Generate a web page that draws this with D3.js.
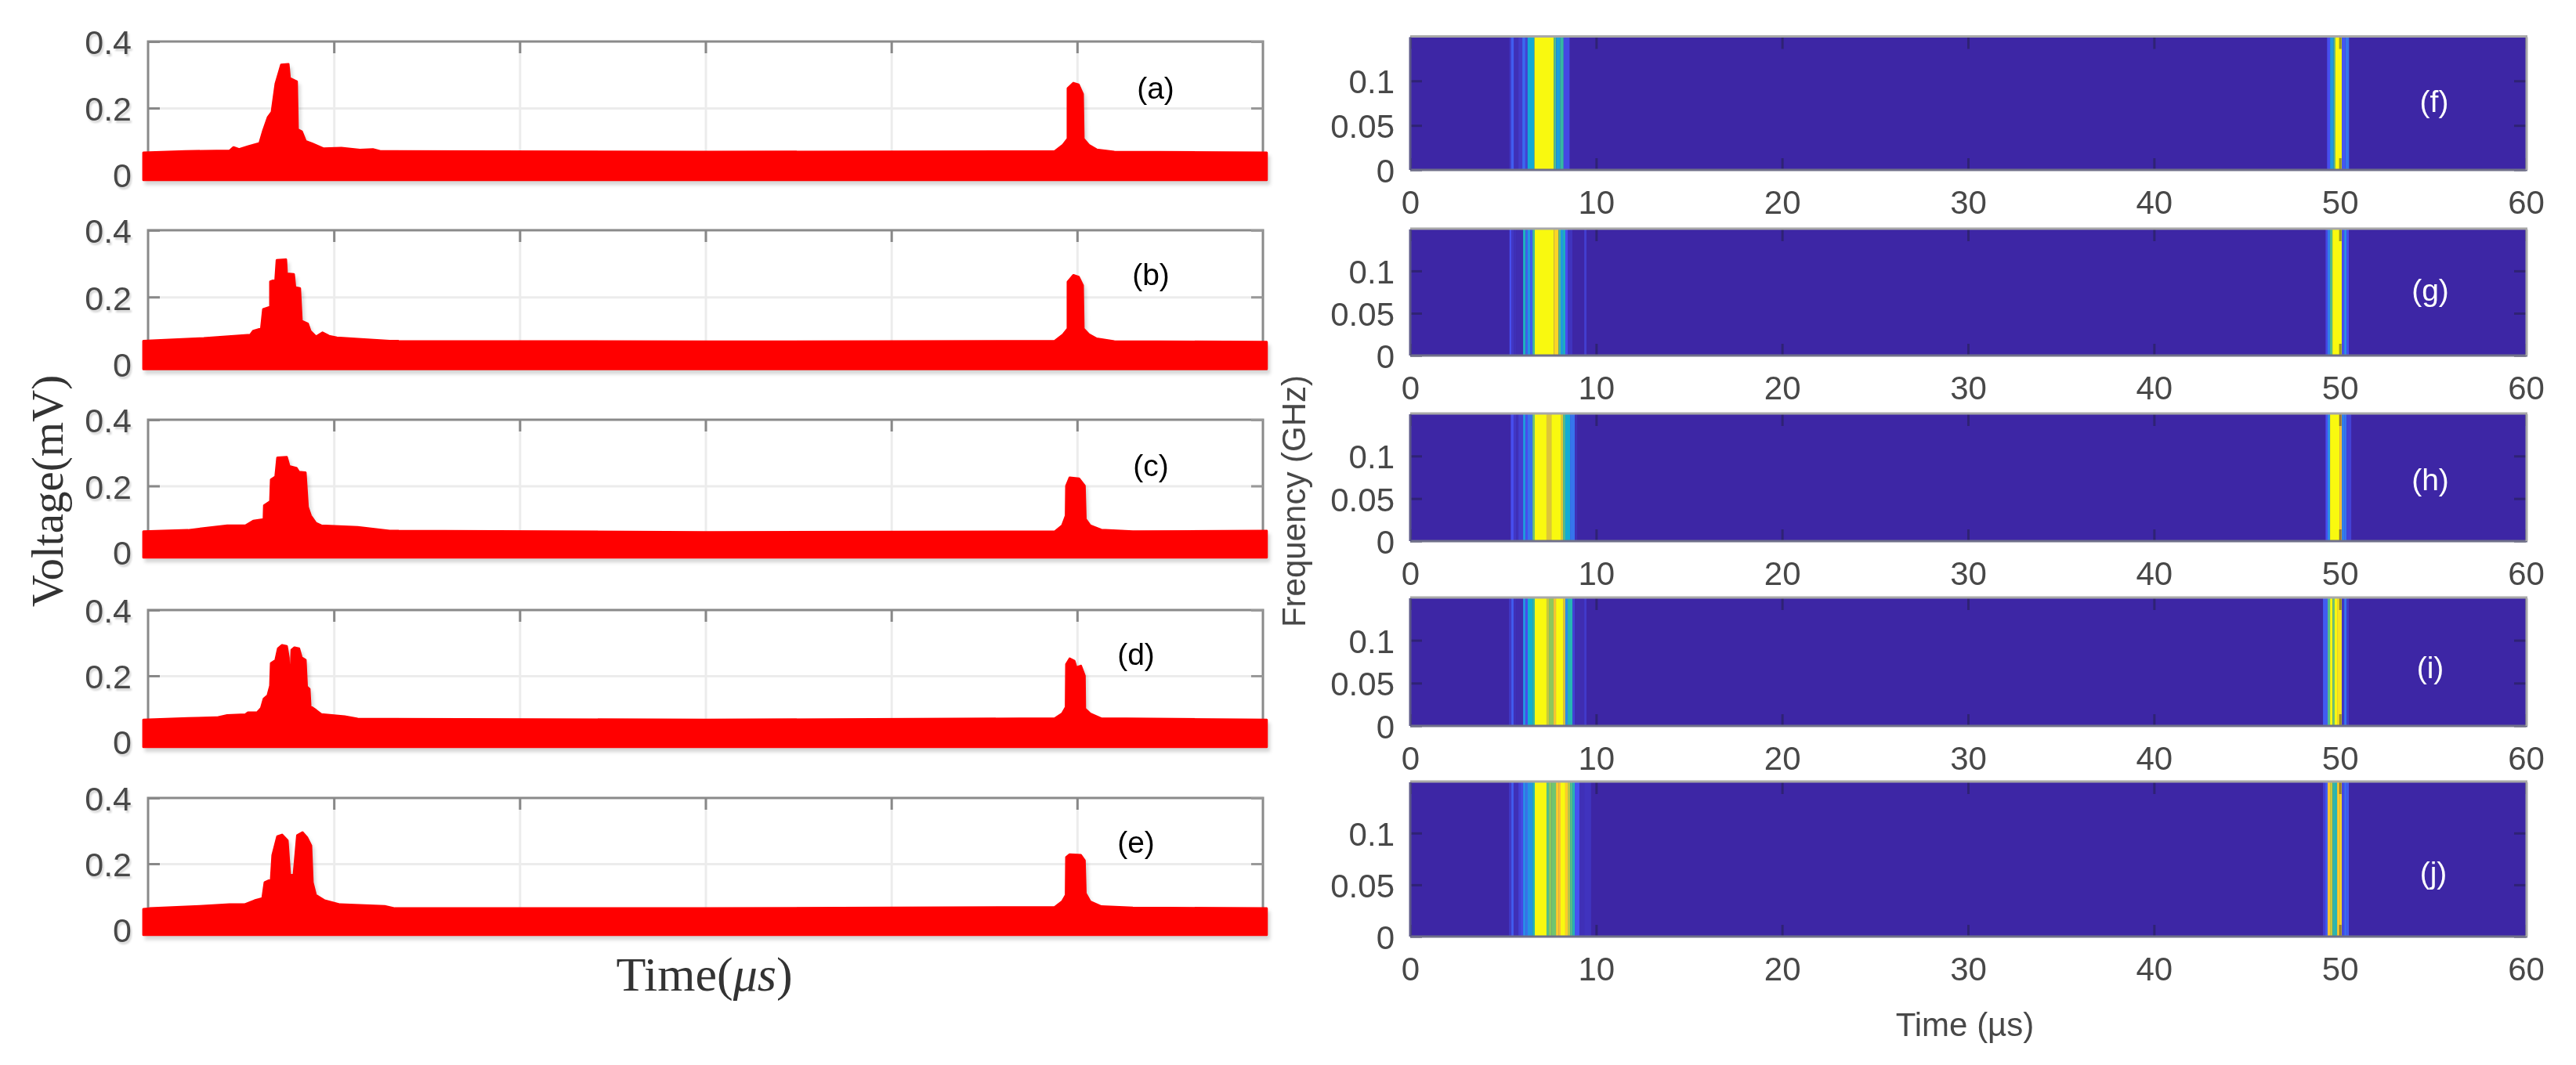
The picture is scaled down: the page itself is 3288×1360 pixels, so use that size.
<html>
<head>
<title></title>
<script src="https://cdn.jsdelivr.net/npm/d3@7/dist/d3.min.js"></script>
<style>
	body{margin:0;background:#fff;}
	svg{display:block;filter:blur(0.6px);}
	text{font-family:"Liberation Sans",Arial,sans-serif;}
	.tick text{fill:#484848;}
	.serif{font-family:"Liberation Serif","Times New Roman",serif;fill:#333;}
</style>
</head>
<body>
<div id='vis'></div>
<script type="text/javascript">
// left panels, envelope of the voltage trace (time in us, voltage in mV)
var aTime=[-.25,2,4.4,4.6,4.9,5.4,6,6.2,6.45,6.66,6.87,7.17,7.55,7.62,8,8.05,8.27,8.48,8.8,9.45,10.4,11.4,12.1,12.5,30,48.8,49.24,49.5,49.5,49.8,50.08,50.3,50.34,50.63,51.05,52,60.2];
var aVolt=[.066,.07,.072,.082,.076,.085,.094,.132,.172,.188,.273,.33,.332,.29,.28,.136,.129,.1,.094,.078,.08,.074,.076,.07,.068,.07,.089,.108,.259,.275,.27,.242,.108,.089,.075,.068,.066];
var bTime=[-.25,3,5.5,5.66,6.09,6.2,6.58,6.58,6.86,6.93,7.42,7.46,7.84,7.91,8.17,8.26,8.59,8.73,9.04,9.39,9.74,10.16,11.3,13,30,48.8,49.24,49.5,49.5,49.8,50.08,50.3,50.34,50.63,51.05,52,60.2];
var bVolt=[.068,.076,.086,.098,.105,.163,.17,.246,.252,.31,.312,.27,.268,.229,.226,.128,.12,.098,.081,.093,.083,.078,.074,.068,.066,.068,.087,.105,.245,.265,.26,.235,.105,.088,.075,.067,.065];
var cTime=[-.25,2.15,4.26,5.24,5.66,6.23,6.25,6.58,6.62,6.86,6.96,7.46,7.6,7.98,8.12,8.47,8.59,8.75,9.04,9.32,11.28,13,30,48.8,49.2,49.4,49.42,49.6,50.1,50.4,50.45,50.7,51.3,53,60.2];
var cVolt=[.062,.066,.08,.08,.094,.099,.141,.153,.219,.228,.285,.287,.259,.254,.242,.24,.136,.11,.087,.08,.075,.064,.06,.062,.08,.11,.2,.225,.222,.2,.1,.08,.067,.062,.064];
var dTime=[-.25,2.15,3.7,4.26,5.24,5.38,5.87,6.09,6.23,6.44,6.58,6.62,6.86,7,7.21,7.46,7.56,7.6,7.67,7.73,7.88,8.12,8.26,8.47,8.54,8.68,8.73,9.04,9.32,10.58,11.28,30,48.8,49.2,49.4,49.42,49.6,49.85,49.95,50.2,50.4,50.42,50.7,51.3,60.2];
var dVolt=[.066,.071,.073,.08,.082,.088,.088,.102,.13,.14,.17,.238,.247,.283,.293,.29,.255,.19,.19,.279,.286,.283,.255,.248,.167,.16,.107,.095,.083,.076,.069,.066,.07,.085,.105,.235,.252,.245,.225,.23,.2,.1,.085,.07,.066];
var eTime=[-.25,.08,2.78,4.38,5.19,5.73,6.16,6.28,6.62,6.7,6.96,7.21,7.5,7.63,7.84,8.03,8.31,8.56,8.77,8.85,9.02,9.5,10.33,12.73,13.28,30,48.8,49.2,49.4,49.42,49.6,50.2,50.4,50.45,50.7,51.3,53,60.2];
var eVolt=[.062,.064,.071,.076,.076,.088,.095,.143,.152,.226,.283,.288,.271,.167,.164,.286,.295,.279,.255,.143,.105,.088,.076,.071,.064,.064,.068,.085,.105,.22,.228,.226,.21,.11,.085,.07,.066,.064];
var voltFloor=-0.016;
var voltTicks=[0,0.2,0.4];
var timeGrid=[10,20,30,40,50];
var leftNames=['(a)','(b)','(c)','(d)','(e)'];

// right panels, stripes of the spectrogram: edges in us, one level per stripe (0 to 1)
var fEdges=[5.34,5.42,5.58,5.82,6.03,6.19,6.31,6.68,7.72,7.85,8.06,8.25,8.57];
var fLevels=[.05,.15,.03,.06,.18,.08,.35,1,.55,.32,.5,.1];
var fPulseEdges=[49.31,49.47,49.66,49.75,50.10,50.29,50.49];
var fPulseLevels=[.12,.3,.55,1,.14,.2];
var gEdges=[5.34,5.44,5.58,5.69,6.07,6.21,6.32,6.45,6.58,6.70,7.73,7.98,8.09,8.22,8.34,8.47,8.73,9.36,9.48];
var gLevels=[.12,.05,.03,.02,.42,.16,.3,.16,.52,1,.92,.55,.3,.42,.12,.04,0,.07];
var gPulseEdges=[49.23,49.34,49.47,49.60,50.10,50.23,50.36,50.48];
var gPulseLevels=[.1,.22,.55,1,.12,.25,.12];
var hEdges=[5.41,5.56,5.69,5.82,6.07,6.20,6.32,6.58,6.70,7.33,7.59,8.09,8.22,8.34,8.60,8.85,8.98];
var hLevels=[.12,.05,.03,.07,.3,.12,.2,.6,1,.8,1,.8,.55,.36,.2,.03];
var hPulseEdges=[49.23,49.34,49.47,49.98,50.10,50.23,50.36,50.61];
var hPulseLevels=[.12,.25,1,.88,.22,.2,.08];
var iEdges=[5.31,5.44,5.56,5.69,6.07,6.20,6.32,6.58,6.70,7.33,7.46,7.71,7.84,8.22,8.34,8.47,8.73,8.85,9.36,9.48];
var iLevels=[.05,.15,.03,.02,.28,.12,.38,.5,1,.75,.65,.85,1,.8,.25,.45,.08,.02,.06];
var iPulseEdges=[49.09,49.34,49.47,49.60,49.72,49.85,50.10,50.23,50.36,50.48];
var iPulseLevels=[.15,.55,1,.6,1,.95,.05,.2,.06];
var jEdges=[5.31,5.44,5.56,5.82,5.94,6.07,6.20,6.32,6.58,6.70,7.33,7.46,7.59,7.84,7.97,8.09,8.34,8.47,8.60,8.73,8.85,9.10,9.36,9.73];
var jLevels=[.05,.15,.03,.08,.1,.25,.2,.28,.45,1,.55,.65,.6,.9,.87,1,.9,.72,.55,.45,.13,.03,.04];
var jPulseEdges=[49.09,49.22,49.34,49.47,49.60,49.72,49.85,49.98,50.10,50.23,50.36,50.48];
var jPulseLevels=[.07,.15,.88,.75,.5,.45,.9,.92,.1,.18,.15];
var freqTicks=[0,0.05,0.1];
var timeTicks=[0,10,20,30,40,50,60];
var rightNames=['(f)','(g)','(h)','(i)','(j)'];

var leftTimes=[aTime,bTime,cTime,dTime,eTime];
var leftVolts=[aVolt,bVolt,cVolt,dVolt,eVolt];
var rightEdges=[[fEdges,fPulseEdges],[gEdges,gPulseEdges],[hEdges,hPulseEdges],[iEdges,iPulseEdges],[jEdges,jPulseEdges]];
var rightLevels=[[fLevels,fPulseLevels],[gLevels,gPulseLevels],[hLevels,hPulseLevels],[iLevels,iPulseLevels],[jLevels,jPulseLevels]];

var svg=d3.select("#vis").append("svg").attr("width",3288).attr("height",1360);

// parula colormap
var parula=d3.scaleLinear()
	.domain([0,.125,.25,.375,.5,.625,.75,.875,1])
	.range(["#3d26a5","#4750f2","#2a8ce8","#0fb0d0","#35b8a3","#7fc862","#c9c93a","#fbc132","#f9f90f"]);

// ---- left column
var leftX=d3.scaleLinear().domain([0,60]).range([189,1612]);
var leftTop=[53,294,536,779,1019];
var leftH=[170,170.5,169,168,168];
var leftLabelPos=[[1475,112],[1469,350],[1469,594],[1450,835],[1450,1075]];

leftNames.forEach(function(name,i){
	var panel=svg.append("g").attr("transform","translate(0,"+leftTop[i]+")");
	var y=d3.scaleLinear().domain([0,0.4]).range([leftH[i],0]);
	var h=leftH[i];

	// grid
	panel.append("g").attr("transform","translate(0,"+h+")")
		.call(d3.axisBottom(leftX).tickValues(timeGrid).tickSize(-h).tickFormat(""))
		.call(function(g){g.select(".domain").remove();g.selectAll("line").attr("stroke","#ececec").attr("stroke-width",3);});
	panel.append("g").attr("transform","translate(189,0)")
		.call(d3.axisRight(y).tickValues([0.2]).tickSize(1423).tickFormat(""))
		.call(function(g){g.select(".domain").remove();g.selectAll("line").attr("stroke","#ececec").attr("stroke-width",3);});

	// frame, nothing at the bottom since the trace sits on it
	panel.append("path").attr("d","M189,"+h+"V0H1612V"+h).attr("fill","none").attr("stroke","#8a8a8a").attr("stroke-width",3);

	// short ticks
	panel.append("g")
		.call(d3.axisBottom(leftX).tickValues(timeGrid).tickSize(15).tickFormat(""))
		.call(function(g){g.select(".domain").remove();g.selectAll("line").attr("stroke","#888").attr("stroke-width",3);});
	panel.append("g").attr("transform","translate(189,0)")
		.call(d3.axisRight(y).tickValues([0.2,0.4]).tickSize(15).tickFormat(""))
		.call(function(g){g.select(".domain").remove();g.selectAll("line").attr("stroke","#888").attr("stroke-width",3);});
	panel.append("g").attr("transform","translate(1612,0)")
		.call(d3.axisLeft(y).tickValues([0.2,0.4]).tickSize(15).tickFormat(""))
		.call(function(g){g.select(".domain").remove();g.selectAll("line").attr("stroke","#999").attr("stroke-width",3);});

	// trace envelope
	var area=d3.area().x(function(d){return leftX(d.t);}).y0(y(voltFloor)).y1(function(d){return y(d.v);});
	var rows=leftTimes[i].map(function(t,k){return {t:t,v:leftVolts[i][k]};});
	panel.append("path").attr("d",area(rows))
		.attr("fill","#ff0000").attr("stroke","#ff0000").attr("stroke-width",3).attr("stroke-linejoin","round")
		.style("filter","drop-shadow(3px 5px 2px rgba(0,0,0,.16))");

	// tick labels
	panel.append("g").attr("transform","translate(175,2)")
		.call(d3.axisLeft(y).tickValues(voltTicks).tickSize(0).tickPadding(7).tickFormat(function(d){return d===0?"0":d3.format(".1f")(d);}))
		.call(function(g){g.select(".domain").remove();g.selectAll("text").attr("font-size",43).attr("font-family","Liberation Sans");})
		.style("filter","drop-shadow(2px 3px 1px rgba(0,0,0,.16))");

	svg.append("text").attr("x",leftLabelPos[i][0]).attr("y",leftLabelPos[i][1]).attr("dy","0.35em")
		.attr("text-anchor","middle").attr("font-size",39).attr("fill","#000").text(name);
});

svg.append("text").attr("class","serif").attr("transform","translate(80,627) rotate(-90)")
	.attr("text-anchor","middle").attr("font-size",57).text("Voltage(mV)");
var timeLabel=svg.append("text").attr("class","serif").attr("x",899).attr("y",1265)
	.attr("text-anchor","middle").attr("font-size",62);
timeLabel.append("tspan").text("Time(");
timeLabel.append("tspan").attr("font-style","italic").text("\u03bcs");
timeLabel.append("tspan").text(")");

// ---- right column
var rightX=d3.scaleLinear().domain([0,60]).range([1800,3224]);
var rightTop=[47.5,293,529,764,999];
var rightH=[169.5,161,162,163,197];
var rightLabelPos=[[3107,129],[3102,370],[3102,612],[3102,852],[3106,1114]];

rightNames.forEach(function(name,i){
	var panel=svg.append("g").attr("transform","translate(0,"+rightTop[i]+")");
	var h=rightH[i];
	var y=d3.scaleLinear().domain([0,0.149]).range([h,0]);

	panel.append("rect").attr("x",rightX(0)).attr("y",0).attr("width",rightX(60)-rightX(0)).attr("height",h).attr("fill",parula(0));

	rightEdges[i].forEach(function(edges,j){
		rightLevels[i][j].forEach(function(level,k){
			panel.append("rect").attr("x",rightX(edges[k])).attr("y",0)
				.attr("width",rightX(edges[k+1])-rightX(edges[k])).attr("height",h)
				.attr("fill",parula(level));
		});
	});

	// inner ticks, dark and see-through like matlab's over an image
	var tickColor="rgba(30,30,60,.45)";
	panel.append("g").call(d3.axisBottom(rightX).tickValues(timeTicks).tickSize(15).tickFormat(""))
		.call(function(g){g.select(".domain").remove();g.selectAll("line").attr("stroke",tickColor).attr("stroke-width",3);});
	panel.append("g").attr("transform","translate(0,"+h+")").call(d3.axisTop(rightX).tickValues(timeTicks).tickSize(15).tickFormat(""))
		.call(function(g){g.select(".domain").remove();g.selectAll("line").attr("stroke",tickColor).attr("stroke-width",3);});
	panel.append("g").attr("transform","translate(1800,0)").call(d3.axisRight(y).tickValues(freqTicks).tickSize(15).tickFormat(""))
		.call(function(g){g.select(".domain").remove();g.selectAll("line").attr("stroke",tickColor).attr("stroke-width",3);});
	panel.append("g").attr("transform","translate(3224,0)").call(d3.axisLeft(y).tickValues(freqTicks).tickSize(15).tickFormat(""))
		.call(function(g){g.select(".domain").remove();g.selectAll("line").attr("stroke",tickColor).attr("stroke-width",3);});

	// frame
	panel.append("line").attr("x1",1800).attr("x2",3226).attr("y1",-1).attr("y2",-1).attr("stroke","#a8a8a8").attr("stroke-width",3);
	panel.append("line").attr("x1",1800).attr("x2",3226).attr("y1",h).attr("y2",h).attr("stroke","#70708a").attr("stroke-width",3);
	panel.append("line").attr("x1",1800).attr("x2",1800).attr("y1",0).attr("y2",h).attr("stroke","#5c5888").attr("stroke-width",3);
	panel.append("line").attr("x1",3225).attr("x2",3225).attr("y1",0).attr("y2",h).attr("stroke","#a8a8a8").attr("stroke-width",3);

	// tick labels
	panel.append("g").attr("transform","translate(1780,2)")
		.call(d3.axisLeft(y).tickValues(freqTicks).tickSize(0).tickPadding(0).tickFormat(function(d){return String(d);}))
		.call(function(g){g.select(".domain").remove();g.selectAll("text").attr("font-size",42).attr("font-family","Liberation Sans");});
	panel.append("g").attr("transform","translate(0,"+(h+26)+")")
		.call(d3.axisBottom(rightX).tickValues(timeTicks).tickSize(0).tickPadding(0).tickFormat(d3.format("d")))
		.call(function(g){g.select(".domain").remove();g.selectAll("text").attr("font-size",42).attr("font-family","Liberation Sans");});

	svg.append("text").attr("x",rightLabelPos[i][0]).attr("y",rightLabelPos[i][1]).attr("dy","0.35em")
		.attr("text-anchor","middle").attr("font-size",39).attr("fill","#fff").text(name);
});

svg.append("text").attr("transform","translate(1666,640) rotate(-90)").attr("text-anchor","middle")
	.attr("font-size",42).attr("fill","#484848").text("Frequency (GHz)");
svg.append("text").attr("x",2508).attr("y",1323).attr("text-anchor","middle")
	.attr("font-size",42).attr("fill","#484848").text("Time (\u00b5s)");
</script>
</body>
</html>
